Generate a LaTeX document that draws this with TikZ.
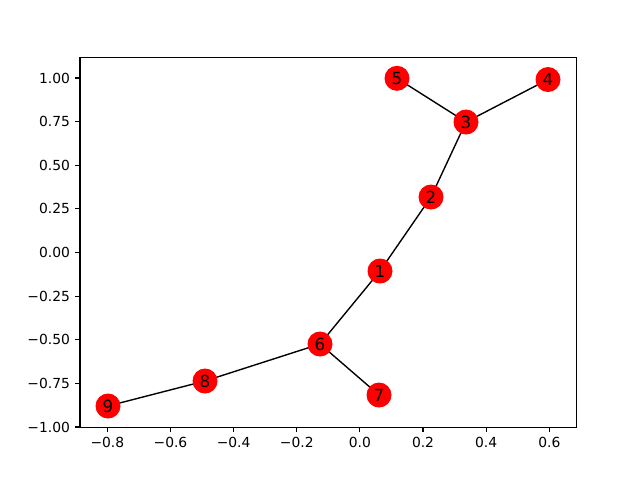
\documentclass[tikz,border=0pt]{standalone}
\usepackage{fontspec}
\setmainfont{DejaVu Sans}
\usetikzlibrary{backgrounds}
\tikzset{
  gnode/.style={circle, fill=red, draw=none, minimum size=18.75pt, inner sep=0pt, font=\fontsize{12.5}{14}\selectfont},
  gedge/.style={line width=1.04pt, black},
  spine/.style={line width=0.83pt, black},
  tickl/.style={line width=0.83pt, black},
  ticklab/.style={font=\fontsize{10.4}{12}\selectfont, inner sep=0pt}
}
\begin{document}
\begin{tikzpicture}[x=0.75pt, y=-0.75pt]
\useasboundingbox (0,0) rectangle (640,480);
% axes frame
\draw[spine] (80,57.6) rectangle (576.7,427.2);
% x ticks
\foreach \v/\t in {-0.8/−0.8,-0.6/−0.6,-0.4/−0.4,-0.2/−0.2,0.0/0.0,0.2/0.2,0.4/0.4,0.6/0.6}{
  \pgfmathsetmacro{\px}{359.9+\v*315.7}
  \draw[tickl] (\px,427.2) -- (\px,432.1);
  \node[ticklab, anchor=north] at (\px,437) {\t};
}
% y ticks
\foreach \v/\t in {-1.00/−1.00,-0.75/−0.75,-0.50/−0.50,-0.25/−0.25,0.00/0.00,0.25/0.25,0.50/0.50,0.75/0.75,1.00/1.00}{
  \pgfmathsetmacro{\py}{252.5-\v*174.5}
  \draw[tickl] (80,\py) -- (75.1,\py);
  \node[ticklab, anchor=east] at (70.2,\py) {\t};
}
% nodes
\node[gnode] (n1) at (380,271) {1};
\node[gnode] (n2) at (431,197) {2};
\node[gnode] (n3) at (466,122) {3};
\node[gnode] (n4) at (548,79.5) {4};
\node[gnode] (n5) at (397,78.3) {5};
\node[gnode] (n6) at (320,344) {6};
\node[gnode] (n7) at (379,395) {7};
\node[gnode] (n8) at (205,381) {8};
\node[gnode] (n9) at (108,406) {9};
% edges
\begin{pgfonlayer}{background}
\draw[gedge] (n5.center) -- (n3.center);
\draw[gedge] (n3.center) -- (n4.center);
\draw[gedge] (n3.center) -- (n2.center);
\draw[gedge] (n2.center) -- (n1.center);
\draw[gedge] (n1.center) -- (n6.center);
\draw[gedge] (n6.center) -- (n7.center);
\draw[gedge] (n6.center) -- (n8.center);
\draw[gedge] (n8.center) -- (n9.center);
\end{pgfonlayer}
\end{tikzpicture}
\end{document}
